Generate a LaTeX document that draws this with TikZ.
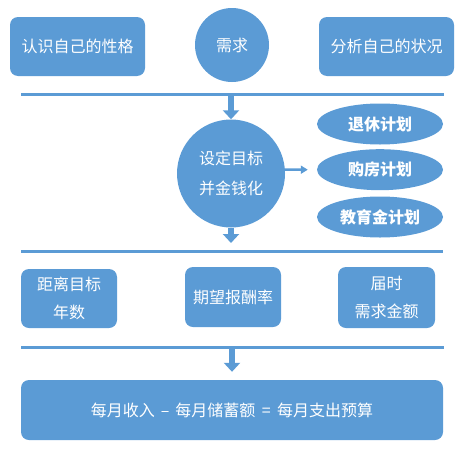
\documentclass[tikz,border=0pt]{standalone}
\usepackage{fontspec}
\setmainfont{Noto Sans CJK SC}
\usetikzlibrary{arrows.meta,shapes.geometric}
\definecolor{pblue}{HTML}{5B9BD5}
\begin{document}
\begin{tikzpicture}[x=1pt,y=-1pt,
  box/.style={fill=pblue,draw=none,rounded corners=8pt,text=white,align=center,
    font=\fontsize{16pt}{28pt}\selectfont,inner sep=0pt},
  circ/.style={circle,fill=pblue,draw=none,text=white,align=center,
    font=\fontsize{16pt}{30pt}\selectfont,inner sep=0pt},
  plan/.style={ellipse,fill=pblue,draw=none,text=white,inner sep=0pt,
    minimum width=126pt,minimum height=41pt,font=\fontsize{16pt}{20pt}\selectfont\bfseries},
  sep/.style={draw=pblue,line width=3pt},
  bigarrow/.style={draw=pblue,line width=6.5pt,-{Triangle[width=16pt,length=9pt]}},
  smallarrow/.style={draw=pblue,line width=2.5pt,-{Triangle[width=8pt,length=7pt]}}]
\useasboundingbox (0,0) rectangle (470,455);
% top row
\node[box,minimum width=135pt,minimum height=59pt] (self) at (77.5,46.5) {认识自己的性格};
\node[circ,minimum size=74pt] (need) at (232,45) {需求};
\node[box,minimum width=135pt,minimum height=59pt] (status) at (386.5,46.5) {分析自己的状况};
% separator 1
\coordinate (l1a) at (21,94);
\coordinate (l1b) at (444,94);
\draw[sep] (l1a) -- (l1b);
% middle
\node[circ,minimum size=108pt] (goal) at (231,173.5) {设定目标\\并金钱化};
\coordinate (a1) at (231,95);
\draw[bigarrow] (a1) -- (goal.north);
\node[plan] (e1) at (380,124) {退休计划};
\node[plan] (e2) at (380,169.7) {购房计划};
\node[plan] (e3) at (380,217) {教育金计划};
\draw[smallarrow] (goal.4) -- ([xshift=-9pt]e2.west);
% separator 2
\coordinate (l2a) at (21,251);
\coordinate (l2b) at (443,251);
\coordinate (a2) at (231,243);
\draw[bigarrow] (goal.south) -- (a2);
\draw[sep] (l2a) -- (l2b);
% bottom row
\node[box,minimum width=96pt,minimum height=59pt] (years) at (69,298.5) {距离目标\\年数};
\node[box,minimum width=96pt,minimum height=60pt] (rate) at (233,297) {期望报酬率};
\node[box,minimum width=97pt,minimum height=61pt] (amount) at (386.5,297.5) {届时\\需求金额};
% separator 3
\coordinate (l3a) at (21,347);
\coordinate (l3b) at (444,347);
\draw[sep] (l3a) -- (l3b);
\node[box,minimum width=422pt,minimum height=60pt] (budget) at (232,410) {每月收入\hspace{6pt}–\hspace{6pt}每月储蓄额\hspace{6.5pt}=\hspace{6.5pt}每月支出预算};
\coordinate (a3) at (232,349);
\draw[bigarrow] (a3) -- ([yshift=8pt]budget.north);
\end{tikzpicture}
\end{document}
